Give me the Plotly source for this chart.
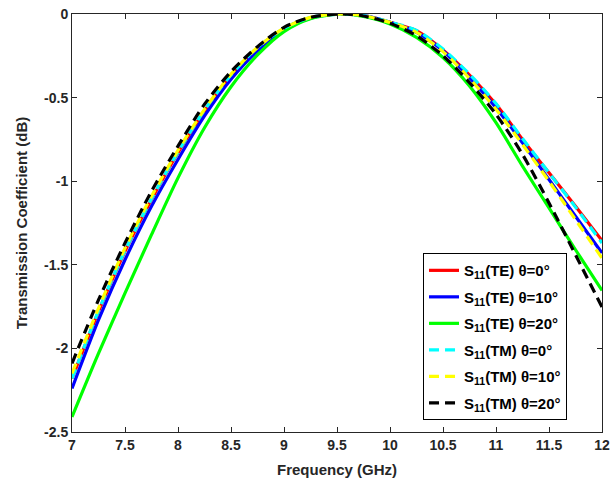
import plotly.graph_objects as go

freq = [7.0, 7.25, 7.5, 7.75, 8.0, 8.25, 8.5, 8.75, 9.0, 9.25, 9.55,
        9.75, 10.0, 10.25, 10.5, 10.75, 11.0, 11.25, 11.5, 11.75, 12.0]

te_0 = [-2.18, -1.78, -1.42, -1.11, -0.83, -0.58, -0.37, -0.205, -0.088, -0.022, 0.0,
        -0.01, -0.05, -0.10, -0.215, -0.365, -0.54, -0.75, -0.95, -1.15, -1.355]
te_10 = [-2.24, -1.83, -1.47, -1.15, -0.87, -0.61, -0.39, -0.22, -0.095, -0.025, 0.0,
         -0.01, -0.05, -0.11, -0.22, -0.38, -0.56, -0.77, -0.99, -1.21, -1.43]
te_20 = [-2.41, -2.03, -1.67, -1.32, -0.98, -0.68, -0.435, -0.245, -0.105, -0.028, 0.0,
         -0.015, -0.06, -0.14, -0.26, -0.43, -0.65, -0.91, -1.16, -1.41, -1.653]
tm_0 = [-2.18, -1.775, -1.415, -1.105, -0.825, -0.575, -0.365, -0.2, -0.086, -0.021, 0.0,
        -0.01, -0.048, -0.098, -0.21, -0.36, -0.535, -0.745, -0.95, -1.155, -1.37]
tm_10 = [-2.15, -1.76, -1.40, -1.09, -0.815, -0.57, -0.36, -0.2, -0.085, -0.02, 0.0,
         -0.01, -0.05, -0.11, -0.225, -0.385, -0.57, -0.78, -1.0, -1.23, -1.46]
tm_20 = [-2.09, -1.71, -1.37, -1.06, -0.79, -0.54, -0.345, -0.195, -0.08, -0.02, 0.0,
         -0.012, -0.055, -0.13, -0.25, -0.41, -0.60, -0.84, -1.13, -1.44, -1.753]

series_names = ["S<sub>11</sub>(TE) θ=0°", "S<sub>11</sub>(TE) θ=10°", "S<sub>11</sub>(TE) θ=20°",
                "S<sub>11</sub>(TM) θ=0°", "S<sub>11</sub>(TM) θ=10°", "S<sub>11</sub>(TM) θ=20°"]
series_values = [te_0, te_10, te_20, tm_0, tm_10, tm_20]
series_colors = ["#ff0000", "#0000ff", "#00ff00", "#00ffff", "#ffff00", "#000000"]
series_dash = ["solid", "solid", "solid", "10px,6px", "10px,6px", "10px,6px"]

x_ticks = [7, 7.5, 8, 8.5, 9, 9.5, 10, 10.5, 11, 11.5, 12]
x_ticktext = ["7", "7.5", "8", "8.5", "9", "9.5", "10", "10.5", "11", "11.5", "12"]
y_ticks = [-2.5, -2, -1.5, -1, -0.5, 0]
y_ticktext = ["-2.5", "-2", "-1.5", "-1", "-0.5", "0"]

fig = go.Figure()
for i, (name, vals, col, dash) in enumerate(zip(series_names, series_values, series_colors, series_dash)):
    fig.add_trace(go.Scatter(
        x=freq, y=vals, mode="lines", name=name, legendgroup=f"g{i}",
        line=dict(color=col, width=3.2, dash=dash, shape="spline", smoothing=0.8),
    ))

font_family = "Liberation Sans, Arial, sans-serif"
axis_color = "#262626"

fig.update_layout(
    width=612, height=489,
    margin=dict(l=72, r=10, t=14, b=57, autoexpand=False),
    paper_bgcolor="white", plot_bgcolor="white",
    font=dict(family=font_family, size=14, color=axis_color, weight="bold"),
    showlegend=True,
    legend=dict(
        x=0.934, y=0.428, xanchor="right", yanchor="top",
        bgcolor="white", bordercolor="#000000", borderwidth=1,
        font=dict(family=font_family, size=15, color="#000000", weight="bold"),
        tracegroupgap=4,
    ),
)
fig.update_xaxes(
    range=[7, 12], tickvals=x_ticks, ticktext=x_ticktext, automargin=False,
    ticklabeloverflow="allow",
    showline=True, linecolor=axis_color, linewidth=1, mirror="ticks",
    ticks="inside", ticklen=5, tickcolor=axis_color, showgrid=False, zeroline=False,
    tickfont=dict(family=font_family, size=14, color=axis_color, weight="bold"),
    title=dict(text="Frequency (GHz)", standoff=12,
               font=dict(family=font_family, size=15, color=axis_color, weight="bold")),
)
fig.update_yaxes(
    range=[-2.5, 0], tickvals=y_ticks, ticktext=y_ticktext, automargin=False,
    ticklabeloverflow="allow",
    showline=True, linecolor=axis_color, linewidth=1, mirror="ticks",
    ticks="inside", ticklen=5, tickcolor=axis_color, showgrid=False, zeroline=False,
    tickfont=dict(family=font_family, size=14, color=axis_color, weight="bold"),
    title=dict(text="Transmission Coefficient (dB)", standoff=12,
               font=dict(family=font_family, size=15, color=axis_color, weight="bold")),
)

fig.write_html(
    "out.html",
    config={"displayModeBar": False},
    post_script="document.body.style.margin='0';document.body.style.overflow='hidden';",
)
